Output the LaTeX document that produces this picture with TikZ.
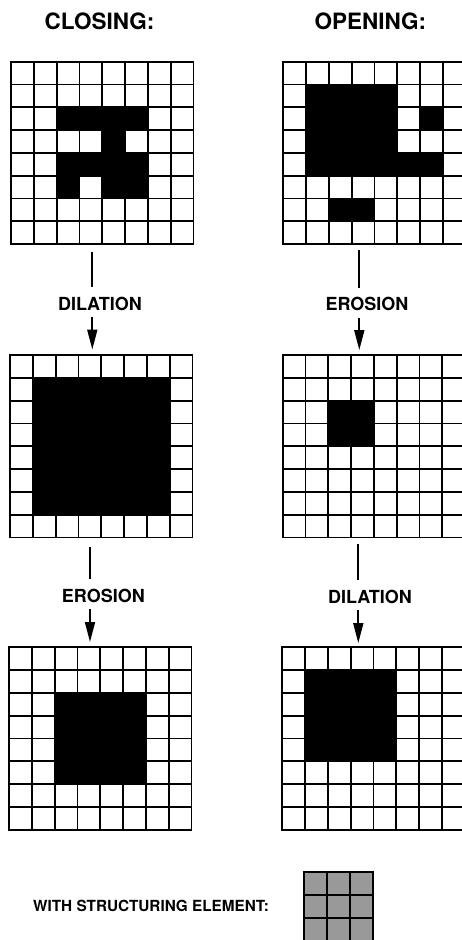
\documentclass[tikz,border=0pt]{standalone}
\usepackage{fontspec}
\setmainfont{TeX Gyre Heros}
\usetikzlibrary{arrows.meta}
\tikzset{
  gridline/.style={line width=1.8pt, line cap=rect, black},
  cellfill/.style={fill=black},
  sefill/.style={fill=black!40},
  lbl/.style={font=\bfseries\fontsize{18}{20}\selectfont, inner sep=0pt},
  ttl/.style={font=\bfseries\fontsize{22.5}{24}\selectfont, inner sep=0pt, anchor=west},
  note/.style={font=\bfseries\fontsize{15.3}{18}\selectfont, inner sep=0pt, anchor=west},
  conn/.style={line width=1.8pt},
  arr/.style={line width=1.8pt, -{Triangle[length=20pt,width=10pt]}},
  gridframe/.style={draw=none, inner sep=0pt, outer sep=0pt}
}
\def\cs{22.8}
\newcommand\mygrid[6]{% name, x, y, n, fill style, fills
  \begin{scope}[shift={(#2,#3)}]
    \foreach \a/\b/\c/\d in {#6} {\fill[#5] (\a*\cs,\b*\cs) rectangle (\c*\cs,\d*\cs);}
    \foreach \i in {0,...,#4} {
      \draw[gridline] (\i*\cs,0) -- (\i*\cs,#4*\cs);
      \draw[gridline] (0,\i*\cs) -- (#4*\cs,\i*\cs);
    }
    \node[gridframe, minimum width=#4*\cs pt, minimum height=#4*\cs pt] (#1) at (#4*\cs/2,#4*\cs/2) {};
  \end{scope}}
\begin{document}
\begin{tikzpicture}[x=1pt,y=-1pt]
  \clip (0,0) rectangle (462,940);
  \fill[white] (0,0) rectangle (462,940);

  % titles
  \node[ttl] (tclose) at (44.5,21) {CLOSING:};
  \node[ttl] (topen) at (314.5,21) {OPENING:};

  % grids
  \mygrid{g1}{11}{61.7}{8}{cellfill}{2/2/6/3, 4/3/5/4, 2/4/6/5, 2/5/3/6, 4/5/6/6}
  \mygrid{g2}{283.3}{61.7}{8}{cellfill}{1/1/5/4, 1/4/7/5, 6/2/7/3, 2/6/4/7}
  \mygrid{g3}{10}{355}{8}{cellfill}{1/1/7/7}
  \mygrid{g4}{282.7}{355}{8}{cellfill}{2/2/4/4}
  \mygrid{g5}{9}{647.3}{8}{cellfill}{2/2/6/6}
  \mygrid{g6}{282.3}{647.3}{8}{cellfill}{1/1/5/5}
  \mygrid{se}{304.3}{872.3}{3}{sefill}{0/0/3/3}

  % labels
  \node[lbl] (l1) at (99.9,304) {DILATION};
  \node[lbl] (l2) at (367,304) {EROSION};
  \node[lbl] (l3) at (103.3,596) {EROSION};
  \node[lbl] (l4) at (370,596.7) {DILATION};
  \node[note] (sel) at (33,905.7) {WITH STRUCTURING ELEMENT:};

  % connector points
  \coordinate (a1) at (92.3,251.7);  \coordinate (b1) at (92.3,286.7);
  \coordinate (c1) at (92.3,316.7);  \coordinate (d1) at (92.3,349.5);
  \coordinate (a2) at (359.3,250);   \coordinate (b2) at (359.3,288);
  \coordinate (c2) at (359.3,317.7); \coordinate (d2) at (359.3,350);
  \coordinate (a3) at (90,546.7);    \coordinate (b3) at (90,579.3);
  \coordinate (c3) at (90,609);      \coordinate (d3) at (90,642);
  \coordinate (a4) at (358.3,544);   \coordinate (b4) at (358.3,580);
  \coordinate (c4) at (358.3,610);   \coordinate (d4) at (358.3,643);

  \draw[conn] (a1) -- (b1);  \draw[arr] (c1) -- (d1);
  \draw[conn] (a2) -- (b2);  \draw[arr] (c2) -- (d2);
  \draw[conn] (a3) -- (b3);  \draw[arr] (c3) -- (d3);
  \draw[conn] (a4) -- (b4);  \draw[arr] (c4) -- (d4);
\end{tikzpicture}
\end{document}
